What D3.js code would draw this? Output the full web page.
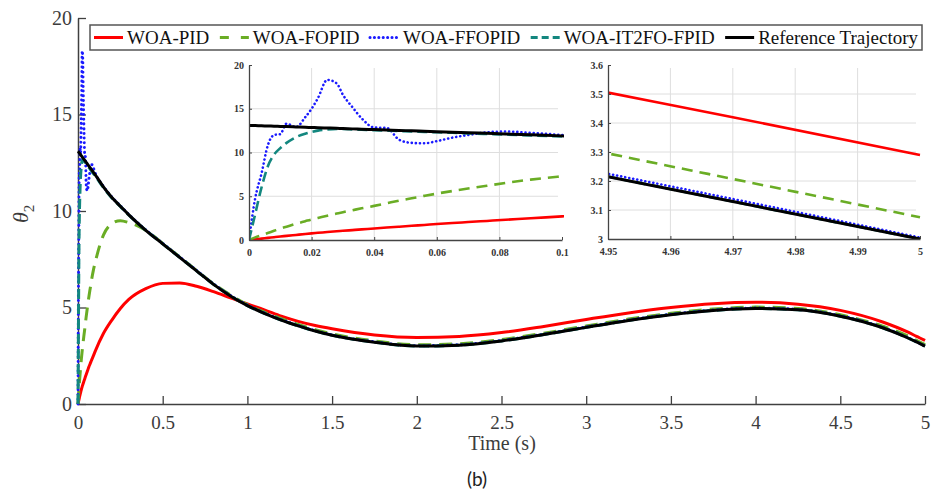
<!DOCTYPE html>
<html><head><meta charset="utf-8">
<script src="https://cdn.jsdelivr.net/npm/d3@7"></script>
<style>body{margin:0;background:#fff} svg{display:block;background:#fff}</style>
</head><body>
<svg id="c" width="937" height="493"></svg>
<script>
// ---------- data ----------
const time = [0,0.002,0.004,0.006,0.008,0.01,0.012,0.015,0.018,0.02,
 0.022,0.025,0.028,0.03,0.033,0.036,0.04,0.044,0.048,0.052,
 0.056,0.06,0.065,0.07,0.076,0.082,0.09,0.1,0.15,0.2,
 0.25,0.3,0.4,0.5,0.6,0.7,0.8,0.9,1.0,1.1,
 1.2,1.3,1.4,1.5,1.75,2.0,2.25,2.5,2.75,3.0,
 3.25,3.5,3.75,4.0,4.25,4.5,4.75,4.9,4.95,4.97,
 5.0];
const woaPID = [0,0.08,0.16,0.24,0.32,0.4,0.47,0.58,0.69,0.76,
 0.82,0.91,1.0,1.05,1.13,1.21,1.31,1.42,1.52,1.62,
 1.72,1.82,1.94,2.05,2.18,2.31,2.48,2.7,3.65,4.35,
 4.95,5.42,5.98,6.25,6.27,6.1,5.82,5.5,5.18,4.88,
 4.55,4.28,4.07,3.9,3.58,3.45,3.5,3.7,4.02,4.38,
 4.72,5.0,5.2,5.27,5.17,4.85,4.25,3.72,3.505,3.42,
 3.29];
const woaFOPID = [0,0.3,0.55,0.8,1.05,1.3,1.52,1.85,2.15,2.35,
 2.52,2.78,3.02,3.18,3.4,3.62,3.9,4.2,4.5,4.77,
 5.04,5.3,5.6,5.88,6.2,6.53,6.9,7.28,8.75,9.35,
 9.5,9.4,9.0,8.32,7.62,6.92,6.23,5.65,5.15,4.76,
 4.42,4.12,3.85,3.63,3.27,3.07,3.12,3.34,3.67,4.04,
 4.4,4.7,4.92,5.02,4.95,4.62,4.03,3.52,3.295,3.207,
 3.075];
const woaFFOPID = [0,4.8,7.6,10.8,12.0,12.1,13.3,12.9,14.05,15.0,
 16.2,18.3,17.9,16.6,15.2,13.9,12.85,12.8,11.45,11.1,
 11.05,11.3,11.7,12.0,12.3,12.4,12.25,12.0,11.27,10.72,
 10.27,9.82,9.02,8.32,7.62,6.92,6.22,5.62,5.12,4.72,
 4.37,4.07,3.8,3.58,3.22,3.02,3.07,3.29,3.62,3.99,
 4.35,4.65,4.87,4.97,4.9,4.57,3.97,3.43,3.225,3.138,
 3.005];
const woaIT2FO = [0,3.0,6.0,8.4,9.75,10.5,11.1,11.75,12.15,12.35,
 12.5,12.62,12.68,12.68,12.64,12.6,12.55,12.5,12.45,12.41,
 12.36,12.31,12.25,12.19,12.12,12.05,11.95,11.84,11.22,10.68,
 10.24,9.79,9.0,8.3,7.6,6.9,6.2,5.6,5.1,4.7,
 4.35,4.05,3.78,3.56,3.2,3.0,3.05,3.27,3.6,3.97,
 4.33,4.63,4.85,4.95,4.88,4.55,3.95,3.42,3.215,3.129,
 3.0];
const reference = [13.1,13.08,13.05,13.03,13.0,12.98,12.96,12.92,12.88,12.86,
 12.84,12.8,12.76,12.74,12.7,12.67,12.62,12.57,12.52,12.48,
 12.43,12.38,12.32,12.26,12.19,12.12,12.02,11.9,11.25,10.7,
 10.25,9.8,9.0,8.3,7.6,6.9,6.2,5.6,5.1,4.7,
 4.35,4.05,3.78,3.56,3.2,3.0,3.05,3.27,3.6,3.97,
 4.33,4.63,4.85,4.95,4.88,4.55,3.95,3.42,3.215,3.129,
 3.0];
const seriesNames = ["WOA-PID","WOA-FOPID","WOA-FFOPID","WOA-IT2FO-FPID","Reference Trajectory"];
const seriesValues = [woaPID, woaFOPID, woaFFOPID, woaIT2FO, reference];

const mainXTicks = [0,0.5,1,1.5,2,2.5,3,3.5,4,4.5,5];
const mainYTicks = [0,5,10,15,20];
const in1XTicks = [0,0.02,0.04,0.06,0.08,0.1];
const in1YTicks = [0,5,10,15,20];
const in2XTicks = [4.95,4.96,4.97,4.98,4.99,5];
const in2YTicks = [3,3.1,3.2,3.3,3.4,3.5,3.6];

// ---------- styles ----------
const styles = [
  {color:"#ff0000", dash:null, cap:"butt"},
  {color:"#6aad25", dash:"13,8", cap:"butt"},
  {color:"#1a1aff", dash:"0.1,4.6", cap:"round"},
  {color:"#13877f", dash:"10,5", cap:"butt"},
  {color:"#000000", dash:null, cap:"butt"}
];
const serif = "Liberation Serif";
const axisCol = "#404040";

const svg = d3.select("#c");
const series = seriesValues.map(v => time.map((t,i)=>({t, v:v[i]})));

// ---------- main plot ----------
const x = d3.scaleLinear().domain([0,5]).range([78,925]);
const y = d3.scaleLinear().domain([0,20]).range([404,18]);
const fmt = d3.format("~g");

const gx = svg.append("g").attr("transform","translate(0,404)")
  .call(d3.axisBottom(x).tickValues(mainXTicks).tickFormat(fmt).tickSizeInner(-8).tickSizeOuter(0));
const gy = svg.append("g").attr("transform","translate(78,0)")
  .call(d3.axisLeft(y).tickValues(mainYTicks).tickFormat(fmt).tickSizeInner(-8).tickSizeOuter(0).tickPadding(6));
[gx,gy].forEach(g=>{
  g.select(".domain").attr("stroke",axisCol).attr("stroke-width",1.5);
  g.selectAll(".tick line").attr("stroke",axisCol).attr("stroke-width",1.3);
  g.selectAll(".tick text").style("font-family",serif).style("font-size","20px").attr("fill","#3c3c3c");
});
gx.selectAll(".tick text").attr("y",25).attr("dy",0).style("font-size","19px");

const lineMain = d3.line().x(d=>x(d.t)).y(d=>y(d.v)).curve(d3.curveMonotoneX);
series.forEach((s,i)=>{
  svg.append("path").datum(s).attr("d",lineMain).attr("fill","none")
    .attr("stroke",styles[i].color).attr("stroke-width",3)
    .attr("stroke-dasharray",styles[i].dash).attr("stroke-linecap",styles[i].cap);
});

// axis labels
svg.append("text").attr("x",502).attr("y",450).attr("text-anchor","middle")
  .style("font-family",serif).style("font-size","20px").attr("fill","#3c3c3c").text("Time (s)");
const yl = svg.append("text").attr("transform","translate(28,223) rotate(-90)")
  .style("font-family",serif).attr("fill","#3c3c3c");
yl.append("tspan").style("font-style","italic").style("font-size","22px").text("θ");
yl.append("tspan").style("font-size","15px").attr("dy",6).text("2");
svg.append("text").attr("x",477).attr("y",486).attr("text-anchor","middle")
  .style("font-family","Lato").style("font-size","19px").attr("fill","#222").text("(b)");

// ---------- insets ----------
function inset(id, xs, ys, xt, yt) {
  const [x0,x1] = xs.range(), [y0,y1] = ys.range();
  const g = svg.append("g");
  g.append("rect").attr("x",x0-30).attr("y",y1-6).attr("width",x1-x0+40).attr("height",y0-y1+30).attr("fill","#fff");
  g.selectAll(".vg").data(xt.slice(1,-1)).join("line")
    .attr("x1",d=>xs(d)).attr("x2",d=>xs(d)).attr("y1",y0).attr("y2",y1+3)
    .attr("stroke","#dedede").attr("stroke-width",1);
  g.selectAll(".hg").data(yt.slice(1,-1)).join("line")
    .attr("x1",x0).attr("x2",x1-4).attr("y1",d=>ys(d)).attr("y2",d=>ys(d))
    .attr("stroke","#dedede").attr("stroke-width",1);
  svg.append("clipPath").attr("id",id).append("rect")
    .attr("x",x0).attr("y",y1-2).attr("width",x1-x0+2).attr("height",y0-y1+2);
  const ln = d3.line().x(d=>xs(d.t)).y(d=>ys(d.v)).curve(d3.curveMonotoneX);
  const lg = g.append("g").attr("clip-path",`url(#${id})`);
  const ax = g.append("g").attr("transform",`translate(0,${y0})`)
    .call(d3.axisBottom(xs).tickValues(xt).tickFormat(fmt).tickSizeInner(-3).tickSizeOuter(0));
  const ay = g.append("g").attr("transform",`translate(${x0},0)`)
    .call(d3.axisLeft(ys).tickValues(yt).tickFormat(fmt).tickSizeInner(-3).tickSizeOuter(0).tickPadding(5));
  [ax,ay].forEach(a=>{
    a.select(".domain").attr("stroke","#444").attr("stroke-width",1.3);
    a.selectAll(".tick line").attr("stroke","#444");
    a.selectAll(".tick text").style("font-family",serif).style("font-size","10px")
      .style("font-weight","bold").attr("fill","#333");
  });
  ax.selectAll(".tick text").attr("y",16).attr("dy",0);
  series.forEach((s,i)=>{
    lg.append("path").datum(s).attr("d",ln).attr("fill","none")
      .attr("stroke",styles[i].color).attr("stroke-width",i===4?3:2.6)
      .attr("stroke-dasharray", i===1?"11,7":(i===2?"0.1,4":(i===3?"10,5":null)))
      .attr("stroke-linecap",styles[i].cap);
  });
}
inset("clip1", d3.scaleLinear().domain([0,0.1]).range([249,562]), d3.scaleLinear().domain([0,20]).range([240,65]),
      in1XTicks, in1YTicks);
inset("clip2", d3.scaleLinear().domain([4.95,5]).range([608,920]), d3.scaleLinear().domain([3,3.6]).range([239,65]),
      in2XTicks, in2YTicks);

// ---------- legend ----------
const lgG = svg.append("g");
lgG.append("rect").attr("x",90).attr("y",25).attr("width",832).attr("height",25)
  .attr("fill","#fff").attr("stroke","#555").attr("stroke-width",1.5);
let lx = 94;
const texts = seriesNames.map((n,i)=>{
  const t = lgG.append("text").attr("y",44).style("font-family",serif)
    .style("font-size","19px").attr("fill","#111").text(n);
  return t;
});
const widths = texts.map(t=>t.node().getComputedTextLength());
const total = widths.reduce((a,b)=>a+b,0);
const gap = (918 - 94 - total - 5*33)/4;
seriesNames.forEach((n,i)=>{
  lgG.append("line").attr("x1",lx).attr("x2",lx+29).attr("y1",37.5).attr("y2",37.5)
    .attr("stroke",styles[i].color).attr("stroke-width",3)
    .attr("stroke-dasharray", i===1?"9,12":(i===2?"0.1,4.3":(i===3?"7,4":null)))
    .attr("stroke-linecap",styles[i].cap);
  texts[i].attr("x",lx+33);
  lx = lx + 33 + widths[i] + gap;
});
</script>
</body></html>
